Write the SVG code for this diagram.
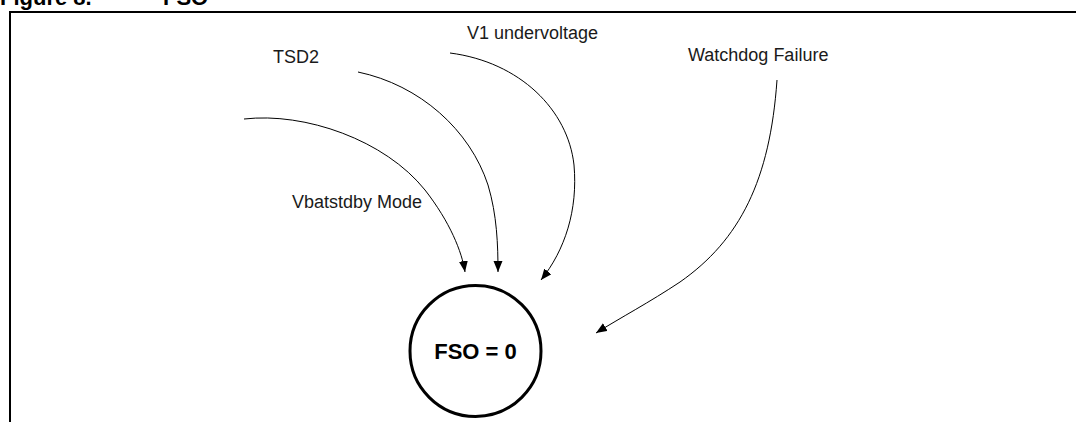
<svg xmlns="http://www.w3.org/2000/svg" width="1076" height="422" viewBox="0 0 1076 422">
<style>
.lbl{font-family:"Liberation Sans",Arial,sans-serif;font-size:18px;fill:#1a1a1a}
.title{font-family:"Liberation Sans",Arial,sans-serif;font-size:22px;font-weight:bold;fill:#000}
.conn{fill:none;stroke:#000;stroke-width:1}
</style>
<defs>
<marker id="arr" markerUnits="userSpaceOnUse" markerWidth="12" markerHeight="10" refX="11" refY="4.5" orient="auto">
<path d="M0,0 L11,4.5 L0,9 z" fill="#000"/>
</marker>
</defs>
<rect width="1076" height="422" fill="#fff"/>
<text class="title" x="0" y="5">Figure 8.</text>
<text class="title" x="163" y="5">FSO</text>
<path d="M10,422 L10,12 L1076,12" fill="none" stroke="#000" stroke-width="2"/>
<g id="connectors">
<path class="conn" d="M244,119 C305,112 385,140 425,190 C450,222 462,252 465,272" marker-end="url(#arr)"/>
<path class="conn" d="M358,72 C420,85 470,130 488,185 C497,215 498,245 498,272" marker-end="url(#arr)"/>
<path class="conn" d="M450,53 C520,62 568,110 574,165 C578,210 565,250 541,280" marker-end="url(#arr)"/>
<path class="conn" d="M777,80 C770,180 740,240 680,282 C650,302 620,318 596,333" marker-end="url(#arr)"/>
</g>
<g id="tsd2"><text class="lbl" x="273" y="63">TSD2</text></g>
<g id="v1uv"><text class="lbl" x="467" y="39">V1 undervoltage</text></g>
<g id="wdg"><text class="lbl" x="688" y="61">Watchdog Failure</text></g>
<g id="vbat"><text class="lbl" x="292" y="208">Vbatstdby Mode</text></g>
<g id="fso">
<circle cx="475.5" cy="351" r="65.5" fill="none" stroke="#000" stroke-width="3"/>
<text x="475.5" y="359" text-anchor="middle" font-family="Liberation Sans, Arial, sans-serif" font-size="22" font-weight="bold">FSO = 0</text>
</g>
</svg>
